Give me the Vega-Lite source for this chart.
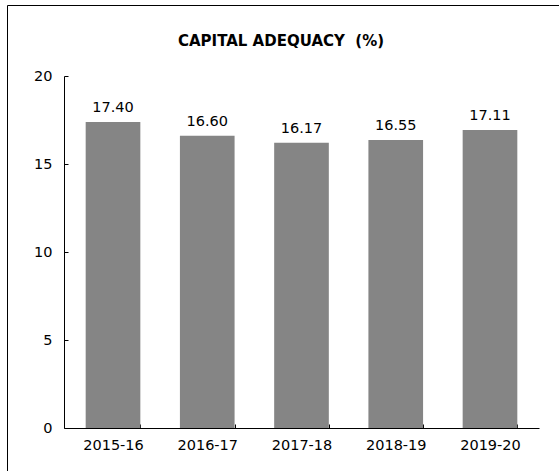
{
  "$schema": "https://vega.github.io/schema/vega-lite/v6.json",
  "width": 556,
  "height": 470,
  "autosize": {"type": "none"},
  "padding": {"left": 7, "top": 5, "right": -4, "bottom": -4},
  "background": "white",
  "config": {
    "view": {"stroke": "#000000", "strokeWidth": 1},
    "font": "DejaVu Sans"
  },
  "title": {
    "text": "CAPITAL ADEQUACY \u00a0(%)",
    "font": "DejaVu Sans",
    "fontSize": 15,
    "fontWeight": "bold",
    "color": "#000000",
    "anchor": "middle",
    "frame": "group",
    "baseline": "alphabetic",
    "dx": -4,
    "offset": -56
  },
  "data": {
    "values": [
      {"year": "2015-16", "bar": 17.39, "label": "17.40"},
      {"year": "2016-17", "bar": 16.61, "label": "16.60"},
      {"year": "2017-18", "bar": 16.21, "label": "16.17"},
      {"year": "2018-19", "bar": 16.36, "label": "16.55"},
      {"year": "2019-20", "bar": 16.93, "label": "17.11"}
    ]
  },
  "encoding": {
    "x": {
      "field": "year",
      "type": "nominal",
      "sort": null,
      "scale": {"range": [57, 532], "paddingInner": 0.42, "paddingOuter": 0.23},
      "axis": {
        "title": null,
        "labelAngle": 0,
        "labelFont": "DejaVu Sans",
        "labelFontSize": 14.5,
        "labelColor": "#000000",
        "labelPadding": 14,
        "domainColor": "#000000",
        "tickColor": "#000000",
        "tickSize": -4,
        "tickBand": "extent",
        "offset": -47
      }
    },
    "y": {
      "field": "bar",
      "type": "quantitative",
      "scale": {"domain": [0, 20], "range": [423, 71], "nice": false, "zero": true},
      "axis": {
        "title": null,
        "values": [0, 5, 10, 15, 20],
        "grid": false,
        "labelFont": "DejaVu Sans",
        "labelFontSize": 14.5,
        "labelColor": "#000000",
        "labelPadding": 16,
        "domainColor": "#000000",
        "tickColor": "#000000",
        "tickSize": -4,
        "offset": -57
      }
    }
  },
  "layer": [
    {"mark": {"type": "bar", "color": "#858585"}},
    {
      "mark": {"type": "text", "baseline": "alphabetic", "dy": -10, "font": "DejaVu Sans", "fontSize": 14.5, "color": "#000000"},
      "encoding": {"text": {"field": "label"}}
    }
  ]
}
